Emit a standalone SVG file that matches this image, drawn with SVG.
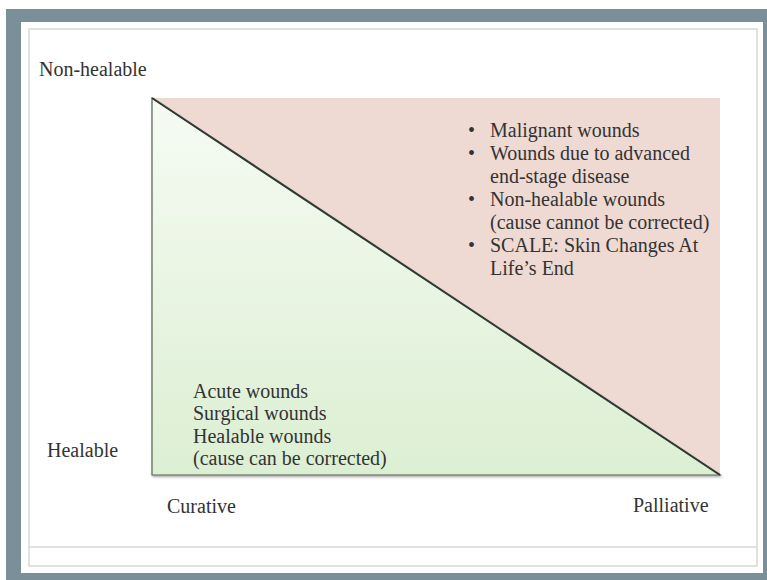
<svg xmlns="http://www.w3.org/2000/svg" width="767" height="580" viewBox="0 0 767 580">
  <defs>
    <linearGradient id="greenGrad" x1="0" y1="0" x2="0" y2="1">
      <stop offset="0" stop-color="#f6fbf3"/>
      <stop offset="1" stop-color="#dcefd3"/>
    </linearGradient>
    <filter id="shadow" x="-5%" y="-5%" width="110%" height="110%">
      <feDropShadow dx="1" dy="1.5" stdDeviation="1" flood-color="#000" flood-opacity="0.35"/>
    </filter>
    <style>
      .lbl { font-family: "Liberation Serif", "Times New Roman", serif; font-size: 20px; fill: #333333; }
    </style>
  </defs>

  <!-- background frame -->
  <rect x="0" y="0" width="767" height="580" fill="#ffffff"/>
  <rect x="6" y="9" width="761" height="571" fill="#7b8f99"/>
  <rect x="21" y="22" width="742" height="551" fill="#ffffff"/>
  <rect x="29" y="29" width="728" height="537" fill="none" stroke="#d6d9cf" stroke-width="1.5"/>
  <line x1="29" y1="547" x2="757" y2="547" stroke="#d6d9cf" stroke-width="1.5"/>

  <g id="palliative-area">
    <rect x="152" y="98" width="568" height="377" fill="#efd9d3"/>
  </g>

  <g id="curative-area">
    <polygon points="152,98 152,475 720,475" fill="url(#greenGrad)" stroke="#56634f" stroke-width="1.2" filter="url(#shadow)"/>
  </g>

  <g id="connectors">
    <line x1="152" y1="98" x2="720" y2="475" stroke="#2e3a33" stroke-width="2"/>
  </g>

  <g id="axis-labels">
    <text class="lbl" x="39" y="76">Non-healable</text>
    <text class="lbl" x="47" y="457">Healable</text>
    <text class="lbl" x="167" y="513">Curative</text>
    <text class="lbl" x="633" y="512">Palliative</text>
  </g>

  <g id="palliative-list">
    <text class="lbl" x="468" y="137">•</text>
    <text class="lbl" x="490" y="137">Malignant wounds</text>
    <text class="lbl" x="468" y="160">•</text>
    <text class="lbl" x="490" y="160">Wounds due to advanced</text>
    <text class="lbl" x="490" y="183">end-stage disease</text>
    <text class="lbl" x="468" y="206">•</text>
    <text class="lbl" x="490" y="206">Non-healable wounds</text>
    <text class="lbl" x="490" y="229">(cause cannot be corrected)</text>
    <text class="lbl" x="468" y="252">•</text>
    <text class="lbl" x="490" y="252">SCALE: Skin Changes At</text>
    <text class="lbl" x="490" y="275">Life’s End</text>
  </g>

  <g id="curative-list">
    <text class="lbl" x="193" y="398">Acute wounds</text>
    <text class="lbl" x="193" y="420">Surgical wounds</text>
    <text class="lbl" x="193" y="443">Healable wounds</text>
    <text class="lbl" x="193" y="465">(cause can be corrected)</text>
  </g>
</svg>
